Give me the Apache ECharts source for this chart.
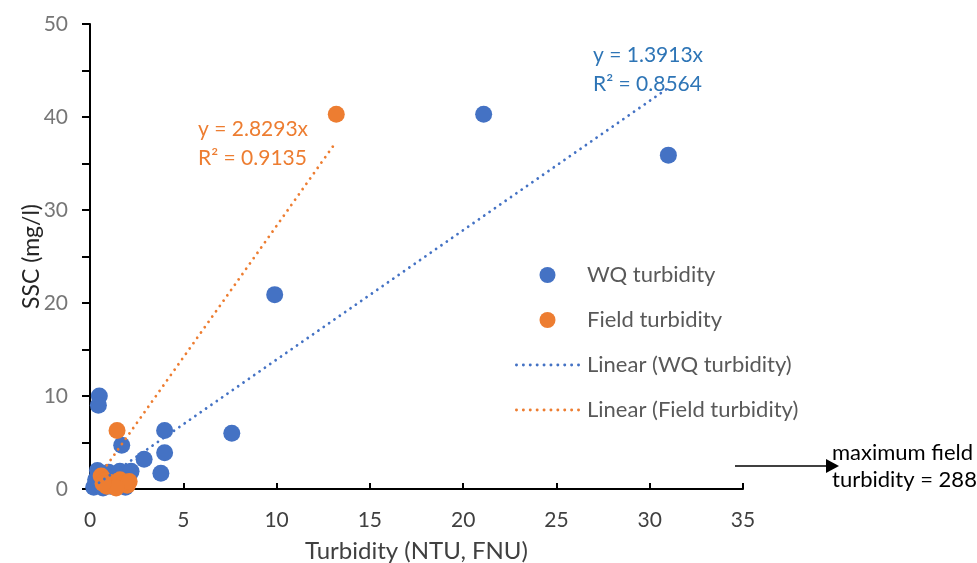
<!DOCTYPE html>
<html><head><meta charset="utf-8">
<script src="https://cdn.jsdelivr.net/npm/echarts@6/dist/echarts.min.js"></script>
<style>html,body{margin:0;padding:0;background:#fff}#c{width:977px;height:563px}</style>
</head><body><div id="c"></div>
<script>
// WQ turbidity series
const wqTurbidity = [21.1, 31.0, 9.9, 7.6, 4.0, 4.0, 3.8, 2.9, 1.7, 0.5, 0.45,
  0.2, 0.3, 0.4, 0.5, 0.6, 0.8, 1.0, 1.1, 1.3, 1.6, 1.8, 1.9, 2.1, 2.2, 0.7, 1.5];
const wqSSC = [40.3, 35.9, 20.9, 6.0, 6.3, 3.9, 1.7, 3.2, 4.7, 10.0, 9.0,
  0.2, 1.0, 2.0, 0.4, 1.6, 0.8, 1.8, 0.3, 1.2, 1.9, 0.8, 0.2, 1.5, 1.9, 0.1, 0.5];
// Field turbidity series
const fieldTurbidity = [13.2, 1.45, 0.6, 0.8, 0.9, 1.1, 1.3, 1.6, 1.8, 2.0, 2.1, 1.4, 0.7];
const fieldSSC = [40.3, 6.3, 1.4, 0.9, 0.3, 0.7, 0.4, 1.0, 0.6, 0.4, 0.8, 0.1, 0.6];
// Linear trendline endpoints (turbidity, SSC)
const wqTrendX = [0.2, 31.0];
const wqTrendY = [0.28, 43.13];
const fieldTrendX = [0.5, 13.2];
const fieldTrendY = [1.41, 37.35];
const seriesNames = ['WQ turbidity', 'Field turbidity', 'Linear (WQ turbidity)', 'Linear (Field turbidity)'];
const wqEquation = ['y = 1.3913x', 'R² = 0.8564'];
const fieldEquation = ['y = 2.8293x', 'R² = 0.9135'];
const annotation = ['maximum field', 'turbidity = 288'];
const xTitle = 'Turbidity (NTU, FNU)';
const yTitle = 'SSC (mg/l)';

const zip = (a, b) => a.map((v, i) => [v, b[i]]);
const FONT = 'Lato';
const BLUE = '#4472C4', ORANGE = '#ED7D31';

// dotted-line legend icon (row of small round dots)
let dotPath = 'path://';
for (let i = 0; i < 10; i++) {
  const cx = 1.4 + i * 6.5;
  dotPath += 'M' + (cx - 1.4) + ',1.4a1.4,1.4 0 1,0 2.8,0a1.4,1.4 0 1,0 -2.8,0Z';
}

const chart = echarts.init(document.getElementById('c'));
chart.setOption({
  animation: false,
  grid: {left: 90, top: 24, width: 653, height: 465, outerBoundsMode: 'none', containLabel: false},
  xAxis: {
    type: 'value', min: 0, max: 35, interval: 5,
    name: xTitle, nameLocation: 'middle', nameGap: 50, nameMoveOverlap: false,
    nameTextStyle: {fontFamily: FONT, fontSize: 24, color: '#404040'},
    axisLine: {show: true, onZero: false, lineStyle: {color: '#000', width: 2}},
    axisTick: {show: true, inside: true, length: 6, lineStyle: {color: '#000', width: 2}},
    axisLabel: {fontFamily: FONT, fontSize: 21, color: '#404040', margin: 21},
    splitLine: {show: false}
  },
  yAxis: {
    type: 'value', min: 0, max: 50, interval: 10,
    name: yTitle, nameLocation: 'middle', nameGap: 47, nameMoveOverlap: false,
    nameTextStyle: {fontFamily: FONT, fontSize: 23, color: '#262626'},
    axisLine: {show: true, onZero: false, lineStyle: {color: '#000', width: 2}},
    axisTick: {show: true, inside: false, length: 8, lineStyle: {color: '#000', width: 2}},
    minorTick: {show: true, splitNumber: 2, length: 8, lineStyle: {color: '#000', width: 2}},
    axisLabel: {fontFamily: FONT, fontSize: 21, color: '#767676', margin: 22},
    splitLine: {show: false}
  },
  legend: {
    orient: 'vertical', left: 510, top: 259, itemWidth: 65, itemHeight: 16, itemGap: 23,
    data: [
      {name: seriesNames[0], icon: 'circle'},
      {name: seriesNames[1], icon: 'circle'},
      {name: seriesNames[2], icon: dotPath},
      {name: seriesNames[3], icon: dotPath}
    ],
    textStyle: {fontFamily: FONT, fontSize: 22, color: '#595959', padding: [0, 0, 0, 2]}
  },
  series: [
    {name: seriesNames[0], type: 'scatter', symbolSize: 17, z: 2,
     itemStyle: {color: BLUE, opacity: 1}, data: zip(wqTurbidity, wqSSC)},
    {name: seriesNames[1], type: 'scatter', symbolSize: 17, z: 3,
     itemStyle: {color: ORANGE, opacity: 1}, data: zip(fieldTurbidity, fieldSSC)},
    {name: seriesNames[2], type: 'line', symbol: 'none', z: 4,
     lineStyle: {color: BLUE, width: 2.8, type: [0.01, 6.5], cap: 'round'},
     itemStyle: {color: BLUE}, data: zip(wqTrendX, wqTrendY)},
    {name: seriesNames[3], type: 'line', symbol: 'none', z: 4,
     lineStyle: {color: ORANGE, width: 2.8, type: [0.01, 6.5], cap: 'round'},
     itemStyle: {color: ORANGE}, data: zip(fieldTrendX, fieldTrendY)}
  ],
  graphic: [
    {type: 'text', left: 593, top: 41, style: {text: wqEquation.join('\n'), fill: '#2E75B6', font: '21px ' + FONT, lineHeight: 29}},
    {type: 'text', left: 198, top: 115, style: {text: fieldEquation.join('\n'), fill: ORANGE, font: '21px ' + FONT, lineHeight: 29}},
    {type: 'line', shape: {x1: 735, y1: 466, x2: 828, y2: 466}, style: {stroke: '#000', lineWidth: 1.5}},
    {type: 'polygon', shape: {points: [[826, 459], [839, 466], [826, 473]]}, style: {fill: '#000'}},
    {type: 'text', left: 832, top: 439, style: {text: annotation.join('\n'), fill: '#000', font: '22px ' + FONT, lineHeight: 27}, z: 10}
  ]
});
</script></body></html>
